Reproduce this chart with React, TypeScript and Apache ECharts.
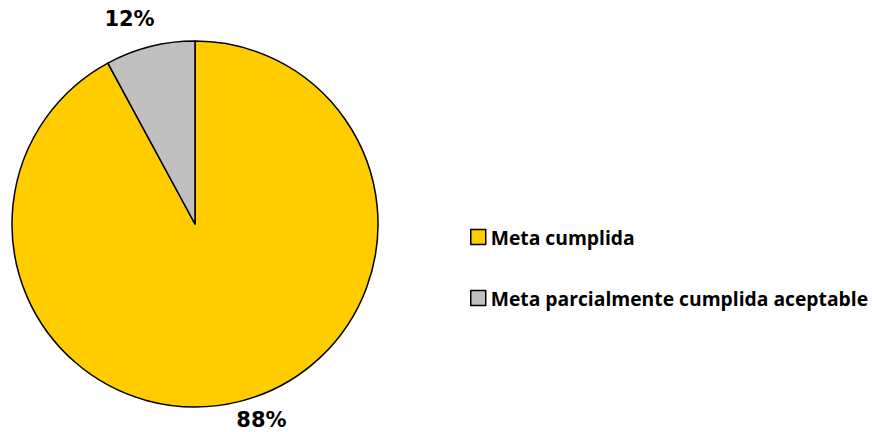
import React, { useEffect, useRef } from "react";
import * as echarts from "echarts";

const categories = ["Meta cumplida", "Meta parcialmente cumplida aceptable"];
const values = [92.1, 7.9];
const valueLabels = ["88%", "12%"];
const colors = ["#FFCC00", "#C0C0C0"];

export default function App() {
  const ref = useRef<HTMLDivElement>(null);
  useEffect(() => {
    if (!ref.current) return;
    const chart = echarts.init(ref.current, undefined, { renderer: "svg" });
    chart.setOption({
      animation: false,
      backgroundColor: "#ffffff",
      legend: {
        orient: "vertical",
        left: 465,
        top: 221,
        itemGap: 39,
        icon: "rect",
        itemWidth: 15,
        itemHeight: 15,
        itemStyle: { borderColor: "#000", borderWidth: 1.5 },
        textStyle: {
          fontFamily: "Open Sans",
          fontWeight: "bold",
          fontSize: 19.3,
          lineHeight: 22,
          color: "#000",
        },
        data: categories,
      },
      series: [
        {
          type: "pie",
          center: [195, 224],
          radius: 183,
          startAngle: 90,
          clockwise: true,
          itemStyle: { borderColor: "#000", borderWidth: 1.5 },
          label: {
            show: true,
            position: "outside",
            formatter: (p: any) => valueLabels[p.dataIndex],
            fontFamily: "DejaVu Sans",
            fontWeight: "bold",
            fontSize: 21,
            lineHeight: 22,
            color: "#000",
          },
          labelLine: { show: false, length: 22, length2: 0 },
          labelLayout: (p: any) => (p.dataIndex === 1 ? { dx: 15, dy: -6 } : { dx: -14, dy: -3 }),
          data: categories.map((name, i) => ({
            name,
            value: values[i],
            itemStyle: { color: colors[i] },
          })),
        },
      ],
    });
    return () => chart.dispose();
  }, []);
  return (
    <div
      ref={ref}
      style={{ position: "fixed", left: 0, top: 0, width: 873, height: 432 }}
    />
  );
}
